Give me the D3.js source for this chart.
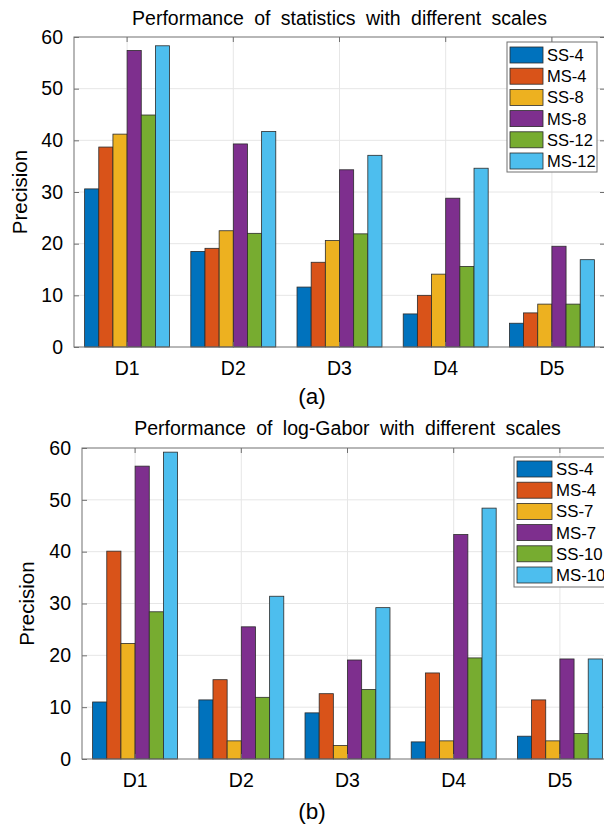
<!DOCTYPE html>
<html>
<head>
<meta charset="utf-8">
<script src="https://d3js.org/d3.v7.min.js"></script>
<style>
  body { margin: 0; background: #fff; }
  text { font-family: "Liberation Sans", Arial, Helvetica, sans-serif; fill: #000; }
</style>
</head>
<body>
<div id="chart-area"></div>
<script>
// values
const categories = ["D1", "D2", "D3", "D4", "D5"];
const yTicks = [0, 10, 20, 30, 40, 50, 60];
const colorList = ["#0072BD", "#D95319", "#EDB120", "#7E2F8E", "#77AC30", "#4DBEEE"];

const seriesA = ["SS-4", "MS-4", "SS-8", "MS-8", "SS-12", "MS-12"];
const valuesA = [
  [30.6, 18.5, 11.6, 6.4, 4.6],
  [38.7, 19.1, 16.4, 10.0, 6.6],
  [41.2, 22.5, 20.6, 14.1, 8.3],
  [57.4, 39.3, 34.3, 28.8, 19.5],
  [44.9, 22.0, 21.9, 15.6, 8.3],
  [58.3, 41.7, 37.1, 34.6, 16.9]
];

const seriesB = ["SS-4", "MS-4", "SS-7", "MS-7", "SS-10", "MS-10"];
const valuesB = [
  [11.0, 11.4, 8.9, 3.3, 4.4],
  [40.1, 15.3, 12.6, 16.6, 11.4],
  [22.3, 3.5, 2.6, 3.5, 3.5],
  [56.5, 25.5, 19.1, 43.3, 19.3],
  [28.4, 11.9, 13.4, 19.5, 4.9],
  [59.2, 31.4, 29.2, 48.4, 19.3]
];

const titleA = "Performance of statistics with different scales";
const titleB = "Performance of log-Gabor with different scales";

const svg = d3.select("#chart-area").append("svg")
  .attr("width", 604)
  .attr("height", 829);

function drawPanel(p) {
  const g = svg.append("g");

  const x0 = d3.scaleBand().domain(categories).range([p.left, p.right])
    .paddingInner(0.2).paddingOuter(0.1);
  const x1 = d3.scaleBand().domain(p.series).range([0, x0.bandwidth()]);
  const y = d3.scaleLinear().domain([0, 60]).range([p.bottom, p.top]);
  const cx = c => x0(c) + x0.bandwidth() / 2;

  // grid
  g.append("g").selectAll("line.h").data(yTicks.slice(1, -1)).enter().append("line")
    .attr("x1", p.left).attr("x2", p.right)
    .attr("y1", d => y(d)).attr("y2", d => y(d))
    .attr("stroke", "#e6e6e6");
  g.append("g").selectAll("line.v").data(categories).enter().append("line")
    .attr("x1", cx).attr("x2", cx)
    .attr("y1", p.top).attr("y2", p.bottom)
    .attr("stroke", "#e6e6e6");

  // bars
  p.series.forEach((s, si) => {
    g.append("g").selectAll("rect")
      .data(p.values[si]).enter().append("rect")
      .attr("x", (d, i) => x0(categories[i]) + x1(s))
      .attr("y", d => y(d))
      .attr("width", x1.bandwidth())
      .attr("height", d => y(0) - y(d))
      .attr("fill", colorList[si])
      .attr("stroke", "#2b2b2b")
      .attr("stroke-width", 0.8);
  });

  // frame
  g.append("rect")
    .attr("x", p.left).attr("y", p.top)
    .attr("width", p.right - p.left).attr("height", p.bottom - p.top)
    .attr("fill", "none").attr("stroke", "#707070");

  // axes, ticks pointing inward like MATLAB
  const axisy = d3.axisLeft(y).tickValues(yTicks).tickSize(-5).tickPadding(11);
  const axisyR = d3.axisRight(y).tickValues(yTicks).tickSize(-5).tickFormat("");
  const axisx = d3.axisBottom(x0).tickSize(-5).tickPadding(14);
  const axisxT = d3.axisTop(x0).tickSize(-5).tickFormat("");

  [
    g.append("g").attr("transform", `translate(${p.left},0)`).call(axisy),
    g.append("g").attr("transform", `translate(${p.right},0)`).call(axisyR),
    g.append("g").attr("transform", `translate(0,${p.bottom})`).call(axisx),
    g.append("g").attr("transform", `translate(0,${p.top})`).call(axisxT)
  ].forEach(a => {
    a.select(".domain").remove();
    a.selectAll("line").attr("stroke", "#707070");
    a.selectAll("text").attr("font-size", "19.5px").attr("fill", "#000");
  });

  // title, y label, panel caption
  g.append("text")
    .attr("x", (p.left + p.right) / 2).attr("y", p.titleY)
    .attr("text-anchor", "middle").attr("font-size", "19.5px")
    .attr("word-spacing", "5px")
    .text(p.title);

  g.append("text")
    .attr("transform", `translate(${p.labelX},${(p.top + p.bottom) / 2}) rotate(-90)`)
    .attr("text-anchor", "middle").attr("font-size", "20.5px")
    .text("Precision");

  g.append("text")
    .attr("x", 312).attr("y", p.captionY)
    .attr("text-anchor", "middle").attr("font-size", "22.5px")
    .text(p.caption);

  // legend
  const L = p.legend;
  const lg = g.append("g");
  lg.append("rect")
    .attr("x", L.x).attr("y", L.y).attr("width", L.w).attr("height", L.h)
    .attr("fill", "#fff").attr("stroke", "#707070");
  const item = lg.selectAll("g.item").data(p.series).enter().append("g")
    .attr("transform", (d, i) => `translate(0,${L.y + L.first + i * L.step})`);
  item.append("rect")
    .attr("x", L.x + 3).attr("y", 0)
    .attr("width", L.swW).attr("height", 16)
    .attr("fill", (d, i) => colorList[i])
    .attr("stroke", "#2b2b2b").attr("stroke-width", 0.8);
  item.append("text")
    .attr("x", L.x + L.swW + 7).attr("y", 8).attr("dy", "0.36em")
    .attr("font-size", L.font)
    .text(d => d);
}

drawPanel({
  series: seriesA, values: valuesA, title: titleA, caption: "(a)",
  left: 74, right: 605, top: 37, bottom: 347,
  titleY: 25, labelX: 27, captionY: 404,
  legend: { x: 507, y: 42, w: 90, h: 130, first: 5, step: 21.2, swW: 33, font: "16.5px" }
});

drawPanel({
  series: seriesB, values: valuesB, title: titleB, caption: "(b)",
  left: 82, right: 613, top: 448, bottom: 759,
  titleY: 435, labelX: 34, captionY: 819,
  legend: { x: 514, y: 457, w: 92, h: 130, first: 4, step: 21.2, swW: 35, font: "16.8px" }
});
</script>
</body>
</html>
